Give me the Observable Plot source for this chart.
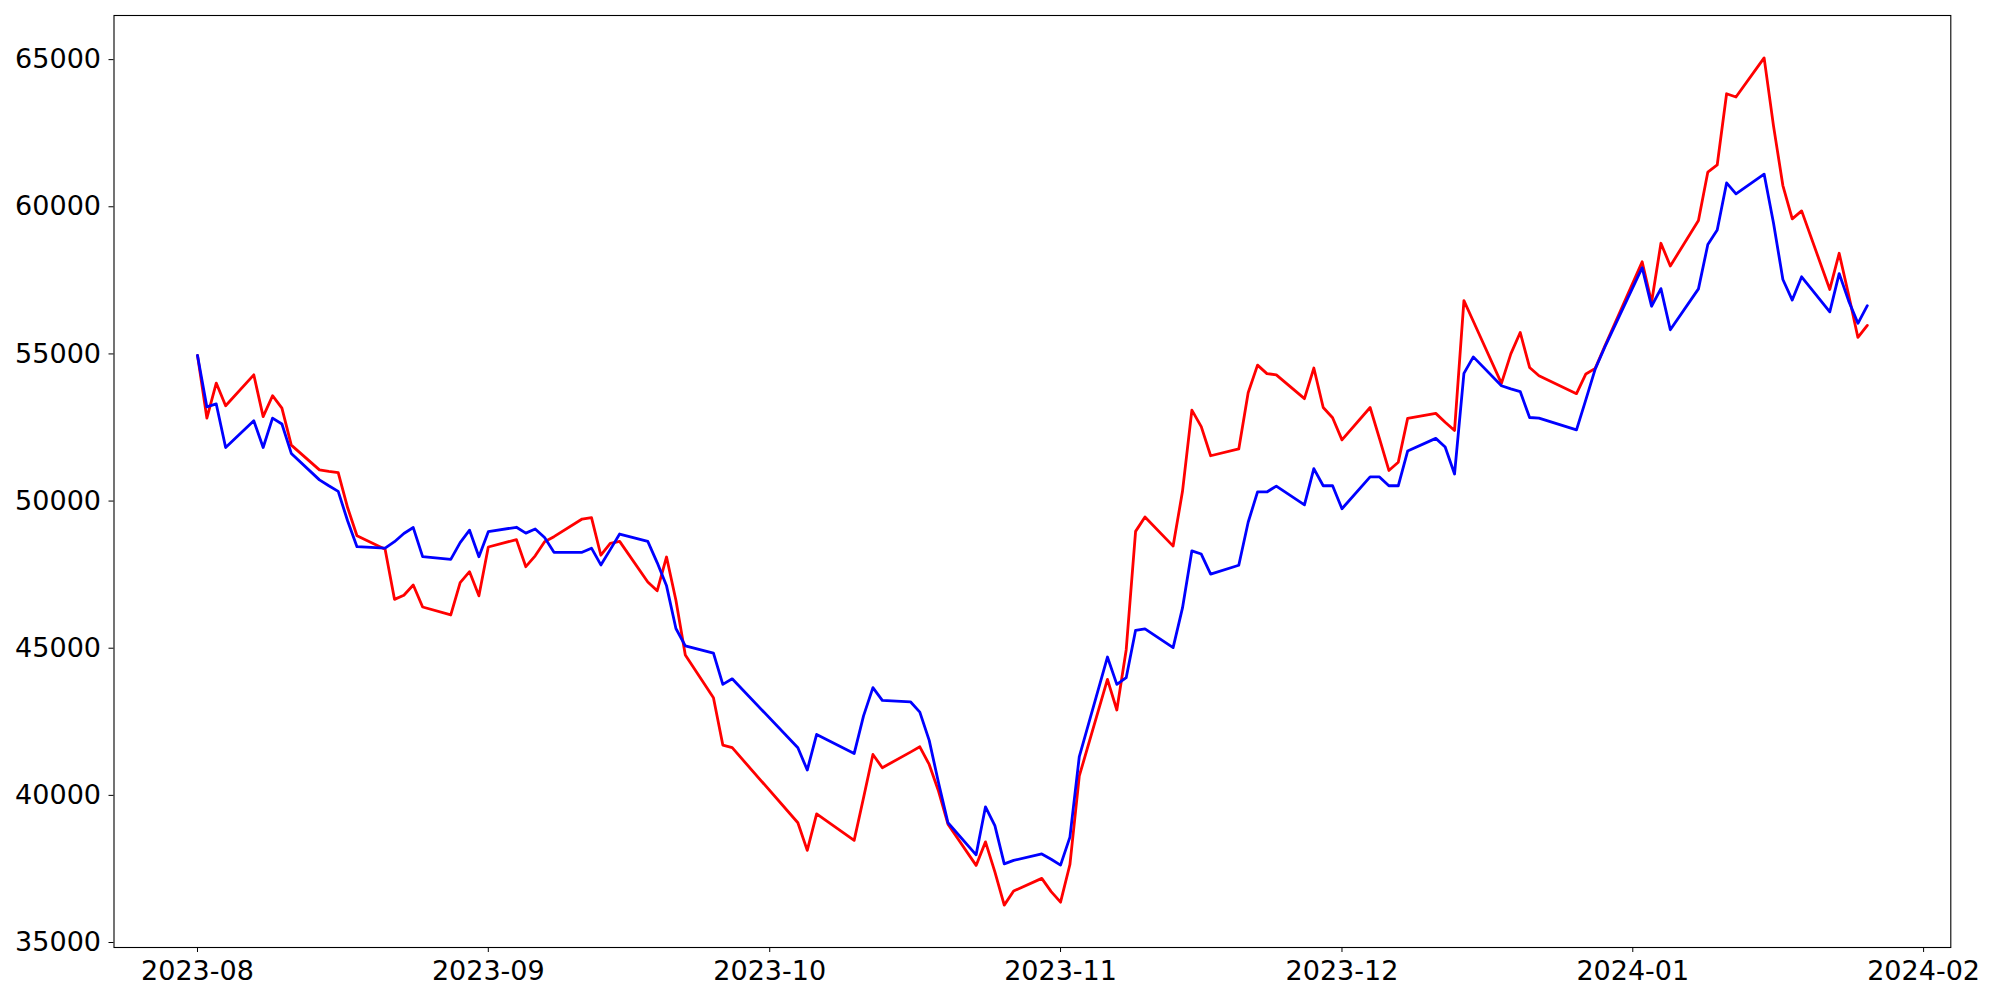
<!DOCTYPE html>
<html>
<head>
<meta charset="utf-8">
<script src="https://cdn.jsdelivr.net/npm/d3@7"></script>
<script src="https://cdn.jsdelivr.net/npm/@observablehq/plot@0.6"></script>
<style>
  html, body { margin: 0; padding: 0; background: #fff; }
  #chart { width: 2000px; height: 1000px; }
</style>
</head>
<body>
<div id="chart"></div>
<script>
const dates = [
  "2023-08-01","2023-08-02","2023-08-03","2023-08-04","2023-08-07","2023-08-08","2023-08-09","2023-08-10","2023-08-11",
  "2023-08-14","2023-08-15","2023-08-16","2023-08-17","2023-08-18","2023-08-21","2023-08-22","2023-08-23","2023-08-24","2023-08-25",
  "2023-08-28","2023-08-29","2023-08-30","2023-08-31","2023-09-01","2023-09-04","2023-09-05","2023-09-06","2023-09-07","2023-09-08",
  "2023-09-11","2023-09-12","2023-09-13","2023-09-14","2023-09-15","2023-09-18","2023-09-19","2023-09-20","2023-09-21","2023-09-22",
  "2023-09-25","2023-09-26","2023-09-27","2023-10-04","2023-10-05","2023-10-06","2023-10-10","2023-10-11","2023-10-12","2023-10-13",
  "2023-10-16","2023-10-17","2023-10-18","2023-10-19","2023-10-20","2023-10-23","2023-10-24","2023-10-25","2023-10-26","2023-10-27",
  "2023-10-30","2023-10-31","2023-11-01","2023-11-02","2023-11-03","2023-11-06","2023-11-07","2023-11-08","2023-11-09","2023-11-10",
  "2023-11-13","2023-11-14","2023-11-15","2023-11-16","2023-11-17","2023-11-20","2023-11-21","2023-11-22","2023-11-23","2023-11-24",
  "2023-11-27","2023-11-28","2023-11-29","2023-11-30","2023-12-01","2023-12-04","2023-12-05","2023-12-06","2023-12-07","2023-12-08",
  "2023-12-11","2023-12-12","2023-12-13","2023-12-14","2023-12-15","2023-12-18","2023-12-19","2023-12-20","2023-12-21","2023-12-22",
  "2023-12-26","2023-12-27","2023-12-28","2023-12-29","2024-01-02","2024-01-03","2024-01-04","2024-01-05",
  "2024-01-08","2024-01-09","2024-01-10","2024-01-11","2024-01-12","2024-01-15","2024-01-16","2024-01-17","2024-01-18","2024-01-19",
  "2024-01-22","2024-01-23","2024-01-24","2024-01-25","2024-01-26"
];

const redSeries = [
  54950,52820,54010,53240,54290,52870,53580,53160,51900,
  51060,51010,50970,49780,48820,48360,46660,46800,47150,46400,
  46130,47230,47600,46780,48440,48690,47770,48140,48620,48790,
  49390,49440,48160,48560,48630,47250,46950,48100,46630,44770,
  43320,41710,41620,39070,38130,39370,38470,39920,41390,40940,
  41470,41650,41050,40140,39020,37620,38420,37400,36270,36750,
  37180,36730,36370,37650,40660,43940,42900,44950,48970,49460,
  48470,50330,53090,52530,51540,51770,53680,54620,54330,54290,
  53480,54520,53180,52830,52080,53180,52120,51040,51320,52810,
  52980,52680,52400,56810,56110,54000,55000,55730,54540,54260,
  53650,54320,54510,55250,58130,56750,58760,57990,
  59530,61180,61420,63840,63730,65060,62750,60720,59590,59860,
  57190,58420,57020,55560,55970
];

const blueSeries = [
  54950,53200,53300,51820,52730,51820,52820,52620,51620,
  50720,50520,50330,49330,48450,48400,48620,48900,49100,48110,
  48020,48590,49010,48110,48960,49110,48910,49050,48760,48260,
  48260,48400,47830,48350,48880,48630,47910,47120,45670,45080,
  44830,43770,43960,41620,40860,42070,41420,42700,43660,43230,
  43180,42830,41870,40420,39070,37980,39610,38970,37670,37790,
  38010,37830,37630,38580,41320,44700,43770,44000,45610,45660,
  45020,46370,48310,48200,47520,47820,49280,50310,50310,50510,
  49870,51100,50520,50520,49740,50820,50820,50520,50520,51700,
  52130,51840,50920,54340,54900,53920,53810,53720,52840,52820,
  52420,53450,54490,55220,57930,56620,57220,55820,
  57210,58720,59210,60810,60440,61110,59450,57530,56830,57620,
  56430,57730,56810,56040,56640
];

const xTickLabels = ["2023-08","2023-09","2023-10","2023-11","2023-12","2024-01","2024-02"];
const yTickValues = [35000, 40000, 45000, 50000, 55000, 60000, 65000];

// build tables for Plot
const parsedDates = dates.map(d => new Date(d + "T00:00:00Z"));
const redData = parsedDates.map((d, i) => ({date: d, value: redSeries[i]}));
const blueData = parsedDates.map((d, i) => ({date: d, value: blueSeries[i]}));

// matplotlib-like 5% margins
const t0 = d3.min(parsedDates), t1 = d3.max(parsedDates);
const tPad = (t1 - t0) * 0.05;
const xDomain = [new Date(+t0 - tPad), new Date(+t1 + tPad)];
const allVals = redSeries.concat(blueSeries);
const vMin = d3.min(allVals), vMax = d3.max(allVals);
const vPad = (vMax - vMin) * 0.05;
const yDomain = [vMin - vPad, vMax + vPad];

const xTicks = xTickLabels.map(s => new Date(s + "-01T00:00:00Z"));

const chart = Plot.plot({
  width: 2000,
  height: 1000,
  marginLeft: 113.5,
  marginRight: 49.7,
  marginTop: 15,
  marginBottom: 53,
  style: {
    fontFamily: "'DejaVu Sans', sans-serif",
    fontSize: "27px",
    color: "black",
    background: "white",
    overflow: "visible"
  },
  x: {
    type: "utc",
    domain: xDomain,
    ticks: xTicks,
    tickFormat: d3.utcFormat("%Y-%m"),
    label: null,
    tickSize: 5,
    tickPadding: 8
  },
  y: {
    domain: yDomain,
    ticks: yTickValues,
    tickFormat: d3.format("d"),
    label: null,
    tickSize: 5,
    tickPadding: 8
  },
  marks: [
    Plot.frame({stroke: "black", strokeWidth: 1.1}),
    Plot.lineY(redData, {x: "date", y: "value", stroke: "#ff0000", strokeWidth: 2.8}),
    Plot.lineY(blueData, {x: "date", y: "value", stroke: "#0000ff", strokeWidth: 2.8})
  ]
});

document.getElementById("chart").appendChild(chart);
</script>
</body>
</html>
